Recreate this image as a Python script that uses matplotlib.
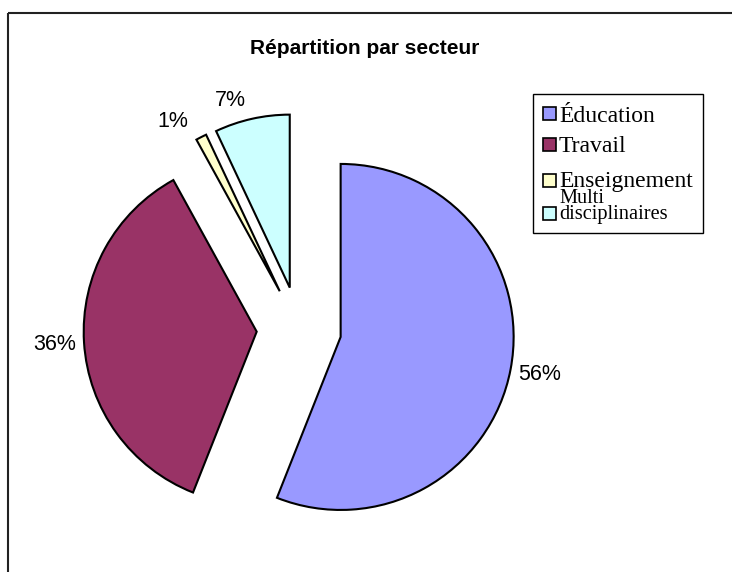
import matplotlib.pyplot as plt
from matplotlib.patches import Rectangle

# data
TITLE = "Répartition par secteur"
SECTORS = ["Éducation", "Travail", "Enseignement", "Multi\ndisciplinaires"]
SHARES = [56, 36, 1, 7]
COLORS = ["#9999FF", "#993366", "#FFFFCC", "#CCFFFF"]

W, H = 732, 572
SANS = "Liberation Sans"
SERIF = "Liberation Serif"


def main():
    fig = plt.figure(figsize=(W / 100, H / 100), dpi=100)

    # pie axes: pie centre sits at pixel (299, 243 from bottom), radius 173 px
    ax = fig.add_axes([0, 0, 1, 1])
    cx, cy, r = 299, 243, 173
    wedges, texts, autotexts = ax.pie(
        SHARES,
        colors=COLORS,
        explode=[0.245] * len(SHARES),
        startangle=90,
        counterclock=False,
        autopct="%.0f%%",
        pctdistance=1.17,
        wedgeprops=dict(edgecolor="black", linewidth=1.5),
        textprops=dict(fontsize=15.5, family=SANS, color="black"),
    )
    # the two small slices have their labels hooked by the top-right corner
    for t in autotexts[2:]:
        t.set_ha("right")
        t.set_va("top")
    ax.set_xlim(-cx / r, (W - cx) / r)
    ax.set_ylim(-cy / r, (H - cy) / r)
    ax.axis("off")

    # overlay in pixel coords (origin top-left) for frame, title and legend
    ov = fig.add_axes([0, 0, 1, 1])
    ov.set_xlim(0, W)
    ov.set_ylim(H, 0)
    ov.axis("off")
    ov.patch.set_visible(False)

    ov.add_patch(Rectangle((8, 13), 900, 700, fill=False,
                           edgecolor="#222222", linewidth=1.5))

    ov.text(365, 54, TITLE, ha="center", va="baseline",
            fontsize=15, fontweight="bold", family=SANS)

    # legend box drawn by hand (last entry is clipped like in the original)
    ov.add_patch(Rectangle((533, 94), 170, 139, fill=False,
                           edgecolor="black", linewidth=1.0))
    clip = Rectangle((533, 94), 170, 127, transform=ov.transData)

    marker_y = [113, 144, 180, 213]
    text_y = [122, 152, 187, 219]  # last value = baseline of the last line
    sizes = [17, 17, 17, 14.7]
    for name, color, my, ty, fs in zip(SECTORS, COLORS, marker_y, text_y, sizes):
        ov.add_patch(Rectangle((543, my - 6.5), 13, 13, facecolor=color,
                               edgecolor="black", linewidth=1.2))
        t = ov.text(559, ty, name, ha="left", va="baseline", fontsize=fs,
                    family=SERIF, linespacing=0.8)
        t.set_clip_path(clip)

    fig.savefig("out.png", dpi=100)
    plt.close(fig)


if __name__ == "__main__":
    main()
